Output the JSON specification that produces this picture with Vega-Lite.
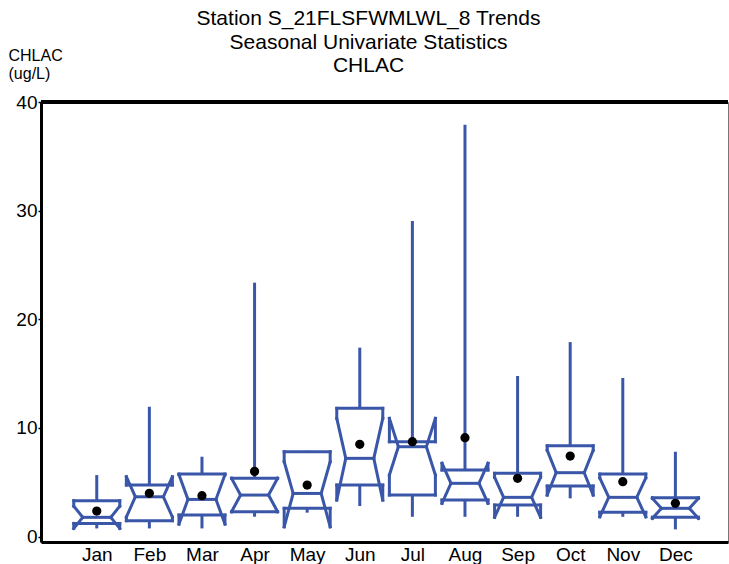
{
  "$schema": "https://vega.github.io/schema/vega-lite/v6.json",
  "width": 687,
  "height": 440,
  "autosize": {"type": "none"},
  "padding": {"left": 41, "top": 102, "right": 1, "bottom": 22},
  "background": "white",
  "title": {
    "text": ["Station S_21FLSFWMLWL_8 Trends", "Seasonal Univariate Statistics", "CHLAC"],
    "font": "Liberation Sans",
    "fontSize": 21,
    "fontWeight": "normal",
    "lineHeight": 23.5,
    "color": "black",
    "anchor": "middle",
    "frame": "group",
    "dx": -16,
    "dy": 49,
    "offset": 20
  },
  "config": {
    "view": {"stroke": "#777777", "strokeWidth": 1},
    "axis": {
      "labelFont": "Liberation Sans",
      "labelFontSize": 19,
      "labelColor": "black",
      "domainColor": "black",
      "domainWidth": 3,
      "tickColor": "black",
      "grid": false,
      "labelFlush": false
    }
  },
  "resolve": {"axis": {"x": "independent", "y": "independent"}},
  "data": {
    "values": [
      {"m": 1, "month": "Jan", "min": 0.75, "q1": 1.21, "nlo": 0.75, "med": 1.77, "nhi": 2.8, "q3": 3.3, "max": 5.66, "mean": 2.35},
      {"m": 2, "month": "Feb", "min": 0.75, "q1": 1.46, "nlo": 1.8, "med": 3.66, "nhi": 5.5, "q3": 4.74, "max": 11.95, "mean": 3.98},
      {"m": 3, "month": "Mar", "min": 0.75, "q1": 1.98, "nlo": 1.15, "med": 3.42, "nhi": 5.69, "q3": 5.75, "max": 7.35, "mean": 3.76},
      {"m": 4, "month": "Apr", "min": 1.83, "q1": 2.29, "nlo": 2.29, "med": 3.82, "nhi": 5.36, "q3": 5.36, "max": 23.37, "mean": 6.0},
      {"m": 5, "month": "May", "min": 2.2, "q1": 2.6, "nlo": 0.9, "med": 3.97, "nhi": 6.89, "q3": 7.81, "max": 7.9, "mean": 4.74},
      {"m": 6, "month": "Jun", "min": 2.81, "q1": 4.74, "nlo": 3.36, "med": 7.2, "nhi": 10.88, "q3": 11.8, "max": 17.39, "mean": 8.49},
      {"m": 7, "month": "Jul", "min": 1.82, "q1": 3.82, "nlo": 5.66, "med": 8.27, "nhi": 10.88, "q3": 8.73, "max": 29.05, "mean": 8.73},
      {"m": 8, "month": "Aug", "min": 1.82, "q1": 3.36, "nlo": 3.06, "med": 4.9, "nhi": 6.74, "q3": 6.12, "max": 37.9, "mean": 9.1},
      {"m": 9, "month": "Sep", "min": 1.82, "q1": 2.9, "nlo": 1.77, "med": 3.61, "nhi": 5.45, "q3": 5.82, "max": 14.78, "mean": 5.36},
      {"m": 10, "month": "Oct", "min": 3.52, "q1": 4.65, "nlo": 3.82, "med": 5.88, "nhi": 7.94, "q3": 8.36, "max": 17.9, "mean": 7.41},
      {"m": 11, "month": "Nov", "min": 1.82, "q1": 2.23, "nlo": 1.82, "med": 3.61, "nhi": 5.4, "q3": 5.75, "max": 14.6, "mean": 5.05},
      {"m": 12, "month": "Dec", "min": 0.66, "q1": 1.77, "nlo": 1.68, "med": 2.6, "nhi": 3.52, "q3": 3.57, "max": 7.81, "mean": 3.06}
    ]
  },
  "layer": [
    {
      "mark": {"type": "rule", "color": "#3A56A8", "strokeWidth": 3},
      "encoding": {
        "x": {"field": "m", "type": "quantitative", "scale": {"domain": [-0.06, 13], "nice": false, "zero": false},
          "axis": {"values": [1,2,3,4,5,6,7,8,9,10,11,12], "labelExpr": "['Jan','Feb','Mar','Apr','May','Jun','Jul','Aug','Sep','Oct','Nov','Dec'][datum.value-1]", "ticks": false, "labelPadding": 3, "labelOverlap": false, "title": null}},
        "y": {"field": "q3", "type": "quantitative", "scale": {"domain": [-0.5, 40], "nice": false, "zero": false},
          "axis": {"values": [0,10,20,30,40], "tickSize": 3, "tickWidth": 1.5, "labelPadding": 1,
            "title": ["CHLAC", "(ug/L)"], "titleAngle": 0, "titleAlign": "left", "titleBaseline": "alphabetic",
            "titleX": -33, "titleY": -42, "titleFont": "Liberation Sans", "titleFontSize": 16, "titleFontWeight": "normal", "titleLineHeight": 18.5, "titleColor": "black"}},
        "y2": {"field": "max"}
      }
    },
    {
      "mark": {"type": "rule", "color": "#3A56A8", "strokeWidth": 3},
      "encoding": {
        "x": {"field": "m", "type": "quantitative", "axis": null},
        "y": {"field": "min", "type": "quantitative", "axis": null},
        "y2": {"field": "q1"}
      }
    },
    {
      "mark": {"type": "rule", "color": "#3A56A8", "strokeWidth": 3, "strokeCap": "square", "xOffset": -23},
      "encoding": {
        "x": {"field": "m", "type": "quantitative", "axis": null},
        "y": {"field": "q1", "type": "quantitative", "axis": null},
        "y2": {"field": "nlo"}
      }
    },
    {
      "mark": {"type": "rule", "color": "#3A56A8", "strokeWidth": 3, "strokeCap": "square", "xOffset": 23},
      "encoding": {
        "x": {"field": "m", "type": "quantitative", "axis": null},
        "y": {"field": "q1", "type": "quantitative", "axis": null},
        "y2": {"field": "nlo"}
      }
    },
    {
      "mark": {"type": "rule", "color": "#3A56A8", "strokeWidth": 3, "strokeCap": "square", "xOffset": -23, "x2Offset": -14},
      "encoding": {
        "x": {"field": "m", "type": "quantitative", "axis": null},
        "x2": {"field": "m"},
        "y": {"field": "nlo", "type": "quantitative", "axis": null},
        "y2": {"field": "med"}
      }
    },
    {
      "mark": {"type": "rule", "color": "#3A56A8", "strokeWidth": 3, "strokeCap": "square", "xOffset": 23, "x2Offset": 14},
      "encoding": {
        "x": {"field": "m", "type": "quantitative", "axis": null},
        "x2": {"field": "m"},
        "y": {"field": "nlo", "type": "quantitative", "axis": null},
        "y2": {"field": "med"}
      }
    },
    {
      "mark": {"type": "rule", "color": "#3A56A8", "strokeWidth": 3, "strokeCap": "square", "xOffset": -14, "x2Offset": -23},
      "encoding": {
        "x": {"field": "m", "type": "quantitative", "axis": null},
        "x2": {"field": "m"},
        "y": {"field": "med", "type": "quantitative", "axis": null},
        "y2": {"field": "nhi"}
      }
    },
    {
      "mark": {"type": "rule", "color": "#3A56A8", "strokeWidth": 3, "strokeCap": "square", "xOffset": 14, "x2Offset": 23},
      "encoding": {
        "x": {"field": "m", "type": "quantitative", "axis": null},
        "x2": {"field": "m"},
        "y": {"field": "med", "type": "quantitative", "axis": null},
        "y2": {"field": "nhi"}
      }
    },
    {
      "mark": {"type": "rule", "color": "#3A56A8", "strokeWidth": 3, "strokeCap": "square", "xOffset": -23},
      "encoding": {
        "x": {"field": "m", "type": "quantitative", "axis": null},
        "y": {"field": "nhi", "type": "quantitative", "axis": null},
        "y2": {"field": "q3"}
      }
    },
    {
      "mark": {"type": "rule", "color": "#3A56A8", "strokeWidth": 3, "strokeCap": "square", "xOffset": 23},
      "encoding": {
        "x": {"field": "m", "type": "quantitative", "axis": null},
        "y": {"field": "nhi", "type": "quantitative", "axis": null},
        "y2": {"field": "q3"}
      }
    },
    {
      "mark": {"type": "rule", "color": "#3A56A8", "strokeWidth": 3, "strokeCap": "square", "xOffset": -23, "x2Offset": 23},
      "encoding": {
        "x": {"field": "m", "type": "quantitative", "axis": null},
        "x2": {"field": "m"},
        "y": {"field": "q3", "type": "quantitative", "axis": null}
      }
    },
    {
      "mark": {"type": "rule", "color": "#3A56A8", "strokeWidth": 3, "strokeCap": "square", "xOffset": -23, "x2Offset": 23},
      "encoding": {
        "x": {"field": "m", "type": "quantitative", "axis": null},
        "x2": {"field": "m"},
        "y": {"field": "q1", "type": "quantitative", "axis": null}
      }
    },
    {
      "mark": {"type": "rule", "color": "#3A56A8", "strokeWidth": 3, "strokeCap": "square", "xOffset": -14, "x2Offset": 14},
      "encoding": {
        "x": {"field": "m", "type": "quantitative", "axis": null},
        "x2": {"field": "m"},
        "y": {"field": "med", "type": "quantitative", "axis": null}
      }
    },
    {
      "mark": {"type": "point", "shape": "circle", "filled": true, "color": "black", "opacity": 1, "size": 85},
      "encoding": {
        "x": {"field": "m", "type": "quantitative", "axis": null},
        "y": {"field": "mean", "type": "quantitative", "axis": null}
      }
    },
    {
      "mark": {"type": "rule", "color": "black", "strokeWidth": 3},
      "encoding": {
        "y": {"datum": 40, "type": "quantitative", "axis": null}
      }
    }
  ]
}
